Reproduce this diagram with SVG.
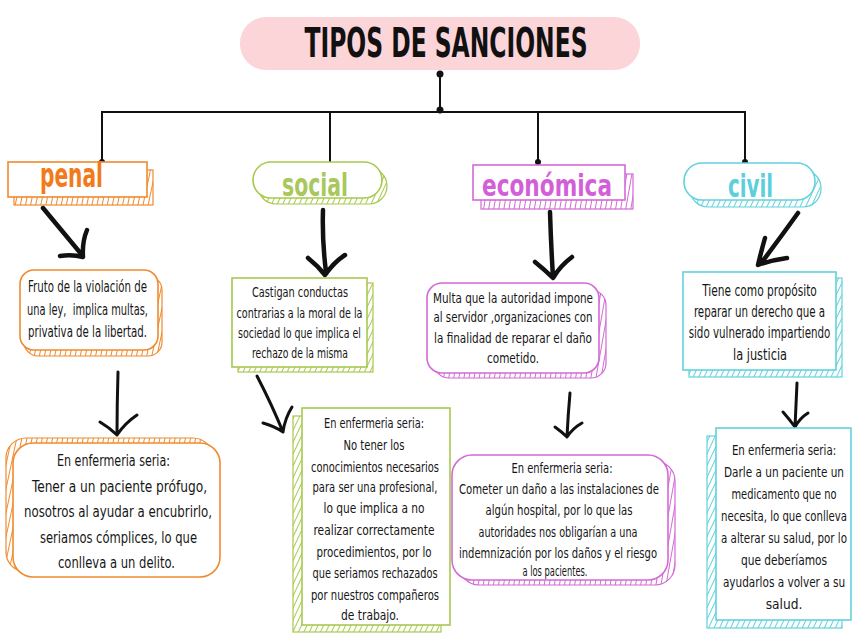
<svg xmlns="http://www.w3.org/2000/svg" width="853" height="640" viewBox="0 0 853 640">
<style>
.t{font-family:"DejaVu Sans Condensed","Liberation Sans",sans-serif;fill:#161616;text-anchor:middle;}
.b15{font-size:15px;}
.b14{font-size:14px;}
.b16{font-size:16px;}
.cat{font-family:"DejaVu Sans Condensed","Liberation Sans",sans-serif;font-weight:bold;text-anchor:middle;}
.fr{fill:#fff;stroke-width:1.6;}
.o{stroke:#ef8a2e;} .g{stroke:#a9c94f;} .p{stroke:#d36ad6;} .c{stroke:#62d2dc;}
.arr{fill:none;stroke:#111;stroke-linecap:round;stroke-linejoin:round;}
.w1{stroke-width:4.5;} .w2{stroke-width:3;}
.ln{stroke:#111;stroke-width:2;fill:none;}
</style>
<defs>
<pattern id="hO" width="5" height="6" patternUnits="userSpaceOnUse" patternTransform="rotate(12)"><line x1="2.5" y1="0" x2="2.5" y2="6" stroke="#ef8a2e" stroke-width="1"/></pattern>
<pattern id="hG" width="5" height="6" patternUnits="userSpaceOnUse" patternTransform="rotate(25)"><line x1="2.5" y1="0" x2="2.5" y2="6" stroke="#a9c94f" stroke-width="1"/></pattern>
<pattern id="hP" width="5" height="6" patternUnits="userSpaceOnUse" patternTransform="rotate(10)"><line x1="2.5" y1="0" x2="2.5" y2="6" stroke="#d36ad6" stroke-width="1"/></pattern>
<pattern id="hC" width="5" height="6" patternUnits="userSpaceOnUse" patternTransform="rotate(25)"><line x1="2.5" y1="0" x2="2.5" y2="6" stroke="#62d2dc" stroke-width="1"/></pattern>
</defs>
<rect width="853" height="640" fill="#fff"/>

<g id="title">
<rect x="240" y="17" width="400" height="53" rx="26" fill="#fcd5d9"/>
<text class="cat" x="446" y="57" font-size="40" fill="#111" textLength="283" lengthAdjust="spacingAndGlyphs">TIPOS DE SANCIONES</text>
</g>

<g id="connectors">
<circle cx="440" cy="74" r="3.5" fill="#111"/>
<line class="ln" x1="440" y1="74" x2="440" y2="110"/>
<circle cx="440" cy="110" r="3.5" fill="#111"/>
<polyline class="ln" points="102,163 102,112 745,112 745,163"/>
<line class="ln" x1="330" y1="112" x2="330" y2="164"/>
<line class="ln" x1="538" y1="112" x2="538" y2="162"/>
<circle cx="102" cy="162" r="3" fill="#111"/>
<circle cx="331" cy="165" r="3" fill="#111"/>
<circle cx="538" cy="162" r="3" fill="#111"/>
<circle cx="745" cy="162" r="3" fill="#111"/>
<path class="arr w1" d="M43,208 L82,255 M60,256 Q72,254 83,257 Q82,242 87,230"/>
<path class="arr w1" d="M323,210 Q322,240 326,272 M308,258 Q318,266 325,275 Q334,262 345,255"/>
<path class="arr w1" d="M550,212 Q551,245 553,277 M535,262 Q545,270 553,278 Q560,266 572,257"/>
<path class="arr w1" d="M798,213 Q780,238 762,262 M765,238 Q761,252 758,265 Q772,260 787,258"/>
<path class="arr w2" d="M118,372 Q117,405 117,435 M100,422 Q110,428 117,435 Q125,423 137,415"/>
<path class="arr w2" d="M257,376 Q272,405 283,432 M263,423 Q274,426 283,432 Q285,418 292,407"/>
<path class="arr w2" d="M570,393 Q568,415 567,437 M555,427 Q562,432 567,437 Q573,428 582,423"/>
<path class="arr w2" d="M797,383 Q796,405 795,427 M783,412 Q790,420 795,427 Q800,418 808,413"/>
</g>

<g id="penal">
<rect x="14" y="170" width="139" height="35" fill="url(#hO)" class="o" stroke-width="1.2"/>
<rect x="8" y="162" width="139" height="35" class="fr o"/>
<text class="cat" x="71.5" y="187" font-size="34" fill="#f27a1a" textLength="63" lengthAdjust="spacingAndGlyphs">penal</text>
</g>

<g id="social">
<rect x="258" y="168" width="129" height="36" rx="18" fill="url(#hG)" class="g" stroke-width="1.2"/>
<rect x="253" y="162" width="129" height="36" rx="18" class="fr g"/>
<text class="cat" x="315" y="196" font-size="32" fill="#a8c85c" textLength="66" lengthAdjust="spacingAndGlyphs">social</text>
</g>

<g id="economica">
<rect x="481" y="174" width="152" height="35" fill="url(#hP)" class="p" stroke-width="1.2"/>
<rect x="473" y="165" width="152" height="35" class="fr p"/>
<text class="cat" x="547" y="196" font-size="30" fill="#d35fd8" textLength="130" lengthAdjust="spacingAndGlyphs">económica</text>
</g>

<g id="civil">
<rect x="690" y="170" width="131" height="37" rx="18" fill="url(#hC)" class="c" stroke-width="1.2"/>
<rect x="684" y="163" width="131" height="37" rx="18" class="fr c"/>
<text class="cat" x="750.5" y="197" font-size="32" fill="#5ccfdb" textLength="45" lengthAdjust="spacingAndGlyphs">civil</text>
</g>

<g id="penal-def">
<rect x="24" y="276" width="138" height="80" rx="14" fill="url(#hO)" class="o" stroke-width="1.2"/>
<rect x="20" y="270" width="138" height="80" rx="14" class="fr o"/>
<text class="t b15" x="87.5" y="292" textLength="119" lengthAdjust="spacingAndGlyphs">Fruto de la violación de</text>
<text class="t b15" x="87.5" y="315" textLength="121" lengthAdjust="spacingAndGlyphs" xml:space="preserve">una ley,  implica multas,</text>
<text class="t b15" x="87.5" y="337" textLength="119" lengthAdjust="spacingAndGlyphs">privativa de la libertad.</text>
</g>

<g id="social-def">
<rect x="238" y="283" width="135" height="89" fill="url(#hG)" class="g" stroke-width="1.2"/>
<rect x="232" y="278" width="135" height="89" class="fr g"/>
<text class="t b14" x="300" y="297" textLength="96" lengthAdjust="spacingAndGlyphs">Castigan conductas</text>
<text class="t b14" x="299.5" y="318" textLength="126" lengthAdjust="spacingAndGlyphs">contrarias a la moral de la</text>
<text class="t b14" x="299.5" y="338" textLength="123" lengthAdjust="spacingAndGlyphs">sociedad lo que implica el</text>
<text class="t b14" x="300" y="358" textLength="96" lengthAdjust="spacingAndGlyphs">rechazo de la misma</text>
</g>

<g id="economica-def">
<rect x="434" y="290" width="172" height="88" rx="15" fill="url(#hP)" class="p" stroke-width="1.2"/>
<rect x="427" y="283" width="172" height="90" rx="15" class="fr p"/>
<text class="t b14" x="513" y="303" textLength="160" lengthAdjust="spacingAndGlyphs">Multa que la autoridad impone</text>
<text class="t b14" x="513" y="322" textLength="159" lengthAdjust="spacingAndGlyphs">al servidor ,organizaciones con</text>
<text class="t b14" x="513" y="343" textLength="158" lengthAdjust="spacingAndGlyphs">la finalidad de reparar el daño</text>
<text class="t b14" x="513" y="363" textLength="52" lengthAdjust="spacingAndGlyphs">cometido.</text>
</g>

<g id="civil-def">
<rect x="689" y="278" width="153" height="99" fill="url(#hC)" class="c" stroke-width="1.2"/>
<rect x="683" y="272" width="153" height="98" class="fr c"/>
<text class="t b15" transform="translate(759.5,296) scale(0.75,1)" x="0" y="0" textLength="153" lengthAdjust="spacingAndGlyphs">Tiene como propósito</text>
<text class="t b15" transform="translate(759.5,317) scale(0.75,1)" x="0" y="0" textLength="175" lengthAdjust="spacingAndGlyphs">reparar un derecho que a</text>
<text class="t b15" transform="translate(759.5,338) scale(0.75,1)" x="0" y="0" textLength="189" lengthAdjust="spacingAndGlyphs">sido vulnerado impartiendo</text>
<text class="t b15" transform="translate(760,360) scale(0.75,1)" x="0" y="0" textLength="72" lengthAdjust="spacingAndGlyphs">la justicia</text>
</g>

<g id="penal-ejemplo">
<rect x="6" y="438" width="207" height="134" rx="20" fill="url(#hO)" class="o" stroke-width="1.2"/>
<rect x="13" y="443" width="207" height="134" rx="20" class="fr o"/>
<text class="t b16" x="113.5" y="466" textLength="113" lengthAdjust="spacingAndGlyphs">En enfermeria seria:</text>
<text class="t b16" x="119.5" y="492" textLength="175" lengthAdjust="spacingAndGlyphs">Tener a un paciente prófugo,</text>
<text class="t b16" x="118" y="517" textLength="188" lengthAdjust="spacingAndGlyphs">nosotros al ayudar a encubrirlo,</text>
<text class="t b16" x="118.5" y="543" textLength="157" lengthAdjust="spacingAndGlyphs">seriamos cómplices, lo que</text>
<text class="t b16" x="116.5" y="568" textLength="117" lengthAdjust="spacingAndGlyphs">conlleva a un delito.</text>
</g>

<g id="social-ejemplo">
<rect x="293" y="416" width="148" height="216" fill="url(#hG)" class="g" stroke-width="1.2"/>
<rect x="302" y="408" width="148" height="217" class="fr g"/>
<text class="t b14" x="374" y="428" textLength="100" lengthAdjust="spacingAndGlyphs">En enfermeria seria:</text>
<text class="t b14" x="374" y="450" textLength="61" lengthAdjust="spacingAndGlyphs">No tener los</text>
<text class="t b14" x="375" y="472" textLength="128" lengthAdjust="spacingAndGlyphs">conocimientos necesarios</text>
<text class="t b14" x="375" y="492" textLength="125" lengthAdjust="spacingAndGlyphs">para ser una profesional,</text>
<text class="t b14" x="374" y="513" textLength="101" lengthAdjust="spacingAndGlyphs">lo que implica a no</text>
<text class="t b14" x="374" y="535" textLength="121" lengthAdjust="spacingAndGlyphs">realizar correctamente</text>
<text class="t b14" x="374" y="557" textLength="115" lengthAdjust="spacingAndGlyphs">procedimientos, por lo</text>
<text class="t b14" x="375" y="578" textLength="125" lengthAdjust="spacingAndGlyphs">que seriamos rechazados</text>
<text class="t b14" x="375" y="600" textLength="128" lengthAdjust="spacingAndGlyphs">por nuestros compañeros</text>
<text class="t b14" x="370" y="620" textLength="58" lengthAdjust="spacingAndGlyphs">de trabajo.</text>
</g>

<g id="economica-ejemplo">
<rect x="459" y="461" width="216" height="124" rx="20" fill="url(#hP)" class="p" stroke-width="1.2"/>
<rect x="452" y="455" width="216" height="125" rx="20" class="fr p"/>
<text class="t b14" x="562" y="473" textLength="101" lengthAdjust="spacingAndGlyphs">En enfermeria seria:</text>
<text class="t b14" x="559" y="494" textLength="200" lengthAdjust="spacingAndGlyphs">Cometer un daño a las instalaciones de</text>
<text class="t b14" x="559" y="515" textLength="147" lengthAdjust="spacingAndGlyphs">algún hospital, por lo que las</text>
<text class="t b14" x="558" y="537" textLength="159" lengthAdjust="spacingAndGlyphs">autoridades nos obligarían a una</text>
<text class="t b14" x="558" y="558" textLength="198" lengthAdjust="spacingAndGlyphs">indemnización por los daños y el riesgo</text>
<text class="t b14" x="555" y="576" textLength="65" lengthAdjust="spacingAndGlyphs">a los pacientes.</text>
</g>

<g id="civil-ejemplo">
<rect x="707" y="436" width="135" height="192" fill="url(#hC)" class="c" stroke-width="1.2"/>
<rect x="716" y="428" width="135" height="192" class="fr c"/>
<text class="t b14" transform="translate(784,455) scale(0.75,1)" x="0" y="0" textLength="139" lengthAdjust="spacingAndGlyphs">En enfermeria seria:</text>
<text class="t b14" transform="translate(784,477) scale(0.75,1)" x="0" y="0" textLength="160" lengthAdjust="spacingAndGlyphs">Darle a un paciente un</text>
<text class="t b14" transform="translate(784,499) scale(0.75,1)" x="0" y="0" textLength="140" lengthAdjust="spacingAndGlyphs">medicamento que no</text>
<text class="t b14" transform="translate(784,521) scale(0.75,1)" x="0" y="0" textLength="168" lengthAdjust="spacingAndGlyphs">necesita, lo que conlleva</text>
<text class="t b14" transform="translate(784,543) scale(0.75,1)" x="0" y="0" textLength="168" lengthAdjust="spacingAndGlyphs">a alterar su salud, por lo</text>
<text class="t b14" transform="translate(784,565) scale(0.75,1)" x="0" y="0" textLength="115" lengthAdjust="spacingAndGlyphs">que deberíamos</text>
<text class="t b14" transform="translate(784,587) scale(0.75,1)" x="0" y="0" textLength="163" lengthAdjust="spacingAndGlyphs">ayudarlos a volver a su</text>
<text class="t b14" transform="translate(784,609) scale(0.75,1)" x="0" y="0" textLength="49" lengthAdjust="spacingAndGlyphs">salud.</text>
</g>
</svg>
